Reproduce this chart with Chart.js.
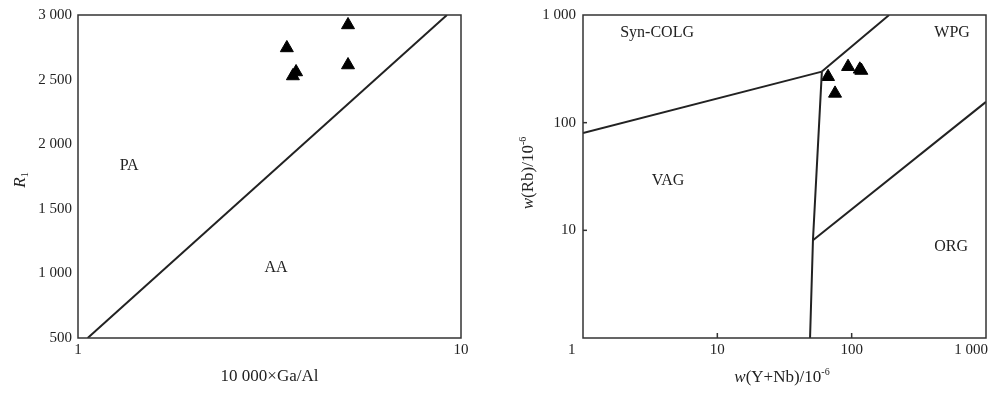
<!DOCTYPE html>
<html>
<head>
<meta charset="utf-8">
<script src="https://cdn.jsdelivr.net/npm/chart.js@4.4.1/dist/chart.umd.min.js"></script>
<style>
  body { margin: 0; background: #fff; }
  #wrap { position: relative; width: 1000px; height: 393px; }
  canvas { position: absolute; top: 0; }
  #left { left: 0; }
  #right { left: 480px; }
</style>
</head>
<body>
<div id="wrap">
  <canvas id="left" width="480" height="393"></canvas>
  <canvas id="right" width="520" height="393"></canvas>
</div>
<script>
// LEFT DATA: R1 vs 10000*Ga/Al
const gaAl = [5.07, 3.51, 5.07, 3.71, 3.64];
const r1 = [2923, 2745, 2613, 2559, 2528];
const paLineX = [1.06, 9.19];
const paLineY = [500, 3000];
const leftXTicks = [1, 10];
const leftLabels = [
  { t: "PA", x: 1.36, y: 1831 },
  { t: "AA", x: 3.29, y: 1042 }
];

// RIGHT DATA: Rb vs Y+Nb
const yNb = [66.7, 94, 115, 118, 75.2];
const rb = [267, 331, 313, 305, 187];
const vagLineX = [1, 60], vagLineY = [80, 298];
const wpgLineX = [60, 190], wpgLineY = [298, 1000];
const colgLineX = [60, 51.5, 49], colgLineY = [298, 8.1, 1];
const orgLineX = [51.5, 1000], orgLineY = [8.1, 156];
const logTicks = [1, 10, 100, 1000];
const rightLabels = [
  { t: "Syn-COLG", x: 3.56, y: 681 },
  { t: "WPG", x: 559, y: 681 },
  { t: "VAG", x: 4.29, y: 28.8 },
  { t: "ORG", x: 550, y: 7.0 }
];

const FAM = '"Liberation Serif", "Times New Roman", serif';
Chart.defaults.font.family = FAM;
Chart.defaults.color = "#222";

function fmt(v) {
  return String(v).replace(/\B(?=(\d{3})+(?!\d))/g, " ");
}
function pts(xs, ys) {
  return xs.map((x, i) => ({ x: x, y: ys[i] }));
}
function lineSet(xs, ys) {
  return { data: pts(xs, ys), showLine: true, borderColor: "#222", borderWidth: 2, pointRadius: 0 };
}
function triSet(xs, ys) {
  return { data: pts(xs, ys), pointStyle: "triangle", pointRadius: 7.5,
           backgroundColor: "#000", borderColor: "#000", borderWidth: 1 };
}
function noPad(s) {
  s.paddingLeft = 0; s.paddingRight = 0; s.paddingTop = 0; s.paddingBottom = 0;
}

// text with italic / sub / sup parts
function richText(ctx, parts, cx, cy, rot) {
  const font = p => (p.it ? "italic " : "") + (p.sup || p.sub ? 10 : 17) + "px " + FAM;
  let w = 0;
  parts.forEach(p => { ctx.font = font(p); p.w = ctx.measureText(p.t).width; w += p.w; });
  ctx.save();
  ctx.translate(cx, cy);
  ctx.rotate(rot);
  ctx.fillStyle = "#222";
  ctx.textBaseline = "alphabetic";
  let x = -w / 2;
  parts.forEach(p => {
    ctx.font = font(p);
    const dy = p.sup ? -7 : p.sub ? 3 : 0;
    ctx.fillText(p.t, x, 6 + dy);
    x += p.w;
  });
  ctx.restore();
}

// frame, region labels, titles, inner ticks
function decor(cfg) {
  return {
    id: "decor",
    afterDraw(chart) {
      const ctx = chart.ctx, a = chart.chartArea;
      const sx = chart.scales.x, sy = chart.scales.y;
      ctx.save();
      ctx.strokeStyle = "#333";
      ctx.lineWidth = 1.5;
      ctx.strokeRect(a.left, a.top, a.right - a.left, a.bottom - a.top);
      (cfg.inTicks || []).forEach(v => {
        const px = sx.getPixelForValue(v);
        ctx.beginPath(); ctx.moveTo(px, a.bottom); ctx.lineTo(px, a.bottom - 5); ctx.stroke();
        const py = sy.getPixelForValue(v);
        ctx.beginPath(); ctx.moveTo(a.left, py); ctx.lineTo(a.left + 4, py); ctx.stroke();
      });
      ctx.fillStyle = "#222";
      ctx.font = "16px " + FAM;
      ctx.textAlign = "center";
      ctx.textBaseline = "middle";
      cfg.labels.forEach(l => {
        ctx.fillText(l.t, sx.getPixelForValue(l.x), sy.getPixelForValue(l.y));
      });
      ctx.restore();
      (cfg.titles || []).forEach(t => richText(ctx, t.parts, t.x, t.y, t.rot));
    }
  };
}

// LEFT CHART
new Chart(document.getElementById("left"), {
  type: "scatter",
  data: { datasets: [lineSet(paLineX, paLineY), triSet(gaAl, r1)] },
  options: {
    responsive: false, animation: false, devicePixelRatio: 1,
    layout: { padding: { top: 15, right: 19, left: 0, bottom: 0 } },
    plugins: { legend: { display: false }, tooltip: { enabled: false } },
    scales: {
      x: {
        type: "logarithmic", min: 1, max: 10,
        afterBuildTicks: s => { s.ticks = leftXTicks.map(v => ({ value: v })); },
        afterFit: s => { s.height = 55; noPad(s); },
        grid: { display: false }, border: { display: false },
        ticks: { padding: -5, autoSkip: false, maxRotation: 0, font: { size: 15 }, callback: v => fmt(v) },
        title: { display: true, text: "10 000×Ga/Al", font: { size: 17 }, padding: { top: 0, bottom: 6 } }
      },
      y: {
        type: "linear", min: 500, max: 3000,
        afterFit: s => { s.width = 78; noPad(s); },
        grid: { display: false }, border: { display: false },
        ticks: { stepSize: 500, padding: -2, font: { size: 15 }, callback: v => fmt(v) }
      }
    }
  },
  plugins: [decor({
    labels: leftLabels,
    titles: [{ parts: [{ t: "R", it: true }, { t: "1", sub: true }], x: 19, y: 180, rot: -Math.PI / 2 }]
  })]
});

// RIGHT CHART
new Chart(document.getElementById("right"), {
  type: "scatter",
  data: { datasets: [
    lineSet(vagLineX, vagLineY), lineSet(wpgLineX, wpgLineY),
    lineSet(colgLineX, colgLineY), lineSet(orgLineX, orgLineY),
    triSet(yNb, rb)
  ] },
  options: {
    responsive: false, animation: false, devicePixelRatio: 1,
    layout: { padding: { top: 15, right: 14, left: 0, bottom: 0 } },
    plugins: { legend: { display: false }, tooltip: { enabled: false } },
    scales: {
      x: {
        type: "logarithmic", min: 1, max: 1000,
        afterBuildTicks: s => { s.ticks = logTicks.map(v => ({ value: v })); },
        afterFit: s => { s.height = 55; noPad(s); },
        grid: { display: false }, border: { display: false },
        ticks: {
          padding: -5, autoSkip: false, maxRotation: 0, font: { size: 15 },
          callback: v => v === 1 ? "1\u2003\u2002" : v === 1000 ? "1 000\u2003\u2003" : fmt(v)
        }
      },
      y: {
        type: "logarithmic", min: 1, max: 1000,
        afterBuildTicks: s => { s.ticks = logTicks.map(v => ({ value: v })); },
        afterFit: s => { s.width = 103; noPad(s); },
        grid: { display: false }, border: { display: false },
        ticks: { padding: -1, autoSkip: false, font: { size: 15 }, callback: v => v === 1 ? "" : fmt(v) }
      }
    }
  },
  plugins: [decor({
    labels: rightLabels,
    inTicks: [10, 100],
    titles: [
      { parts: [{ t: "w", it: true }, { t: "(Rb)/10" }, { t: "-6", sup: true }], x: 47, y: 173, rot: -Math.PI / 2 },
      { parts: [{ t: "w", it: true }, { t: "(Y+Nb)/10" }, { t: "-6", sup: true }], x: 302, y: 376, rot: 0 }
    ]
  })]
});
</script>
</body>
</html>
